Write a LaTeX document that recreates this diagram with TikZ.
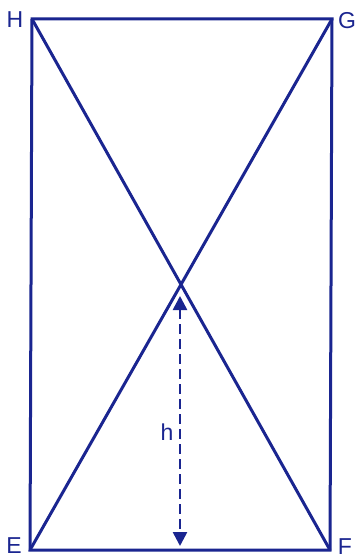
\documentclass[tikz,border=0pt]{standalone}
\usepackage{fontspec}
\setmainfont{Liberation Sans}
\usetikzlibrary{arrows.meta}
\definecolor{ink}{HTML}{1A2590}
\begin{document}
\begin{tikzpicture}[x=1pt,y=-1pt,
  edge/.style={ink,line width=3pt,line join=miter},
  lbl/.style={ink,font=\fontsize{23}{23}\selectfont,inner sep=0pt},
  harrow/.style={ink,line width=2.6pt,dash pattern=on 10pt off 5pt,{Triangle[length=14pt,width=14pt]}-{Triangle[length=14pt,width=14pt]}}]
\fill[white] (0,0) rectangle (358,559);
\useasboundingbox (0,0) rectangle (358,559);
\coordinate (H) at (32,19);
\coordinate (G) at (332,19);
\coordinate (E) at (30,550);
\coordinate (F) at (330,550);
\draw[edge] (H) -- (G) -- (F) -- (E) -- cycle;
\draw[edge] (H) -- (F);
\draw[edge] (G) -- (E);
\coordinate (top) at (180,296);
\coordinate (bot) at (180,546);
\draw[harrow] (top) -- (bot);
\node[lbl] (lh) at (15,20) {H};
\node[lbl] (lg) at (347,21) {G};
\node[lbl] (le) at (14,546) {E};
\node[lbl] (lf) at (345,547) {F};
\node[lbl] (lhh) at (167,432) {h};
\end{tikzpicture}
\end{document}
